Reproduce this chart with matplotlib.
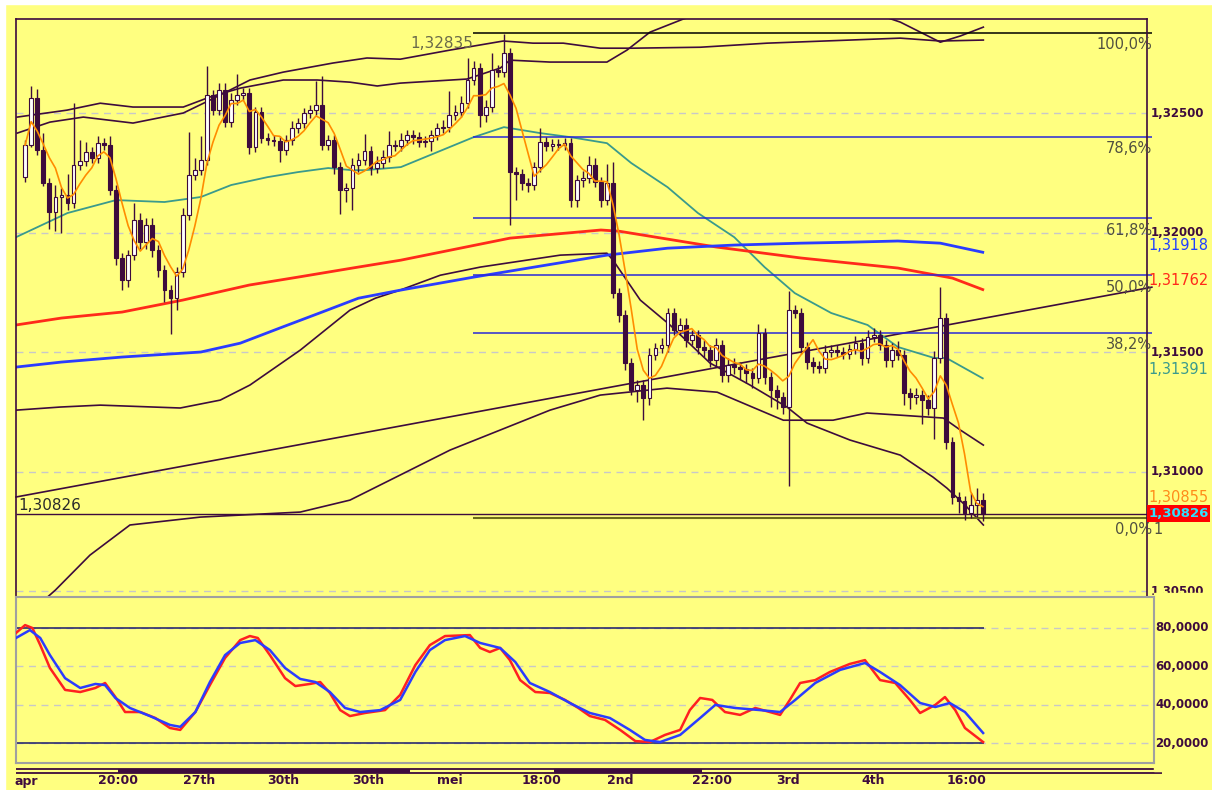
import numpy as np
import pandas as pd
import matplotlib
matplotlib.use("Agg")
import matplotlib.pyplot as plt
from matplotlib.patches import Rectangle
from matplotlib.transforms import blended_transform_factory as blend

plt.rcParams['font.family'] = ['DejaVu Sans']

# ---- 4h price bars ----
first_open = 1.32232
closes = [
    1.32366, 1.32562, 1.32345, 1.32207, 1.32086, 1.32149, 1.32157, 1.32124, 1.32282, 1.32299,
    1.32337, 1.32312, 1.32374, 1.32366, 1.32178, 1.31894, 1.31802, 1.31906, 1.32052, 1.31960,
    1.32032, 1.31927, 1.31843, 1.31760, 1.31726, 1.31835, 1.32073, 1.32241, 1.32261, 1.32303,
    1.32575, 1.32512, 1.32596, 1.32462, 1.32554, 1.32575, 1.32583, 1.32358, 1.32504, 1.32395,
    1.32387, 1.32383, 1.32345, 1.32387, 1.32437, 1.32458, 1.32500, 1.32512, 1.32533, 1.32366,
    1.32387, 1.32274, 1.32178, 1.32186, 1.32282, 1.32303, 1.32341, 1.32270, 1.32291, 1.32316,
    1.32366, 1.32362, 1.32387, 1.32408, 1.32399, 1.32378, 1.32383, 1.32408, 1.32437, 1.32441,
    1.32491, 1.32504, 1.32541, 1.32638, 1.32688, 1.32491, 1.32525, 1.32679, 1.32671, 1.32750,
    1.32253, 1.32245, 1.32207, 1.32199, 1.32274, 1.32378, 1.32362, 1.32370, 1.32366, 1.32374,
    1.32136, 1.32220, 1.32228, 1.32282, 1.32211, 1.32136, 1.32207, 1.31747, 1.31655, 1.31455,
    1.31342, 1.31363, 1.31308, 1.31488, 1.31517, 1.31530, 1.31664, 1.31593, 1.31614, 1.31551,
    1.31572, 1.31522, 1.31509, 1.31467, 1.31530, 1.31405, 1.31446, 1.31438, 1.31430, 1.31413,
    1.31392, 1.31580, 1.31396, 1.31342, 1.31313, 1.31271, 1.31676, 1.31664, 1.31522, 1.31459,
    1.31442, 1.31434, 1.31501, 1.31509, 1.31501, 1.31492, 1.31513, 1.31538, 1.31476, 1.31563,
    1.31571, 1.31530, 1.31467, 1.31509, 1.31488, 1.31329, 1.31313, 1.31321, 1.31300, 1.31267,
    1.31476, 1.31643, 1.31124, 1.30897, 1.30879, 1.30828, 1.30861, 1.30881, 1.30826,
]
# wick lengths in pips above / below the body
wick_up = [
    2, 5, 4, 7, 2, 5, 3, 9, 26, 9,
    4, 2, 3, 2, 4, 2, 2, 2, 7, 3,
    3, 3, 2, 2, 2, 2, 3, 18, 5, 10,
    12, 2, 3, 3, 3, 9, 2, 2, 2, 2,
    2, 2, 2, 2, 3, 2, 2, 2, 10, 12,
    2, 2, 2, 2, 3, 3, 7, 2, 3, 3,
    6, 2, 3, 2, 2, 2, 2, 2, 2, 3,
    10, 3, 3, 9, 3, 2, 3, 7, 2, 8,
    2, 2, 2, 2, 2, 6, 2, 2, 2, 2,
    2, 2, 3, 4, 3, 2, 8, 9, 2, 2,
    2, 2, 2, 3, 2, 3, 2, 2, 3, 3,
    2, 2, 3, 2, 3, 2, 3, 3, 2, 2,
    2, 4, 2, 2, 2, 2, 8, 2, 2, 2,
    2, 2, 3, 2, 2, 2, 2, 3, 2, 3,
    3, 2, 2, 3, 4, 2, 2, 3, 2, 2,
    3, 13, 2, 2, 2, 2, 5, 5, 3,
]
wick_dn = [
    2, 1, 2, 1, 7, 8, 15, 3, 2, 2,
    2, 2, 2, 2, 2, 3, 4, 3, 2, 3,
    3, 3, 3, 5, 15, 5, 2, 2, 2, 2,
    2, 2, 2, 2, 2, 2, 2, 3, 2, 2,
    2, 2, 5, 2, 2, 2, 2, 2, 2, 2,
    2, 3, 10, 5, 9, 3, 2, 3, 2, 2,
    2, 2, 2, 2, 3, 2, 2, 4, 2, 2,
    2, 2, 2, 2, 2, 5, 3, 2, 2, 2,
    22, 11, 3, 3, 2, 2, 2, 2, 2, 2,
    3, 3, 3, 2, 2, 3, 2, 2, 3, 3,
    2, 5, 9, 3, 2, 2, 3, 2, 2, 3,
    2, 3, 3, 3, 3, 3, 3, 3, 4, 4,
    4, 2, 3, 7, 5, 3, 33, 2, 3, 3,
    3, 2, 2, 2, 2, 2, 2, 2, 3, 2,
    2, 2, 3, 3, 2, 5, 5, 3, 10, 3,
    13, 2, 3, 3, 5, 3, 2, 5, 3,
]

# ---- indicator lines, sampled (bar number, price) ----
teal_bar = [-1.5, 7, 15, 23, 29, 34, 40, 45, 50, 54, 56, 62, 74, 79, 85, 90, 96, 100, 106,
            111, 117, 122, 127, 133, 139, 144, 150, 152, 158]
teal_val = [1.31981, 1.32082, 1.32136, 1.32128, 1.32149, 1.32199, 1.32232, 1.32253, 1.32270,
            1.32261, 1.32261, 1.32274, 1.32399, 1.32441, 1.32416, 1.32399, 1.32374, 1.32291,
            1.32190, 1.32082, 1.31981, 1.31856, 1.31747, 1.31664, 1.31614, 1.31522, 1.31476,
            1.31476, 1.31391]

red_bar = [-1.5, 6, 16, 26, 37, 45, 54, 62, 80, 95, 98, 114, 128, 144, 153, 158]
red_val = [1.31614, 1.31643, 1.31668, 1.31718, 1.31781, 1.31814, 1.31852, 1.31885, 1.31977,
           1.32011, 1.32006, 1.31940, 1.31894, 1.31852, 1.31810, 1.31762]

blue_bar = [-1.5, 6, 16, 29, 35.5, 42, 49, 55, 62, 74, 84, 96, 106, 117, 128, 136, 144, 151, 158]
blue_val = [1.31438, 1.31459, 1.31480, 1.31501, 1.31538, 1.31601, 1.31668, 1.31726, 1.31760,
            1.31814, 1.31856, 1.31906, 1.31935, 1.31948, 1.31956, 1.31960, 1.31965, 1.31956,
            1.31918]

upper1_bar = [-1.3, 6.9, 12.4, 17.8, 26.1, 30.5, 35.5, 42.6, 48.2, 53.6, 58.1, 61.9, 72.9, 78.4,
              80, 86.6, 96, 99.3, 103.1, 108.6, 114.7, 124.6, 136.1, 144.4, 151, 154.3, 158.1]
upper1_val = [1.32483, 1.32512, 1.32541, 1.32525, 1.32525, 1.32567, 1.32604, 1.32638, 1.32638,
              1.32629, 1.32613, 1.32625, 1.32642, 1.32688, 1.32721, 1.32713, 1.32713, 1.32763,
              1.32838, 1.32893, 1.32939, 1.32972, 1.32951, 1.32880, 1.32796, 1.32822, 1.32859]

upper2_bar = [-1.3, 4.1, 9.6, 17.8, 26.1, 30.5, 37.1, 42.6, 50.8, 56.4, 61.9, 70.1, 78.9, 83.8,
              88.8, 94.9, 100.3, 111.4, 122.4, 136.1, 144.4, 151, 158.1]
upper2_val = [1.32416, 1.32462, 1.32483, 1.32458, 1.32500, 1.32554, 1.32638, 1.32671, 1.32709,
              1.32730, 1.32725, 1.32763, 1.32801, 1.32792, 1.32792, 1.32771, 1.32771, 1.32775,
              1.32792, 1.32805, 1.32813, 1.32801, 1.32805]

lower1_bar = [-1.5, 5.8, 12.4, 25.6, 32.2, 37.1, 45.4, 53.6, 57.8, 61.9, 68.5, 75.1, 88.3, 96,
              97, 101.5, 106.4, 113, 119.6, 125.7, 129, 136.1, 144.4, 149.8, 152.1, 155.1, 158.1]
lower1_val = [1.31258, 1.31271, 1.31279, 1.31267, 1.31300, 1.31363, 1.31509, 1.31676, 1.31726,
              1.31760, 1.31822, 1.31856, 1.31906, 1.31914, 1.31885, 1.31718, 1.31614, 1.31455,
              1.31363, 1.31271, 1.31204, 1.31133, 1.31070, 1.30978, 1.30932, 1.30861, 1.30778]

lower2_bar = [-1.5, 5, 10.7, 17.3, 28.9, 45.4, 53.6, 61.9, 70.1, 78.4, 86.6, 94.9, 105.9, 114.2,
              125.1, 133.3, 138.9, 144.4, 151.5, 154.3, 158.1]
lower2_val = [1.30360, 1.30506, 1.30652, 1.30778, 1.30811, 1.30832, 1.30882, 1.30987, 1.31091,
              1.31175, 1.31258, 1.31321, 1.31350, 1.31333, 1.31216, 1.31216, 1.31246, 1.31237,
              1.31225, 1.31175, 1.31112]

trend_bar = [-1.5, 185.9]
trend_val = [1.30895, 1.31772]

# fibonacci retracement between the swing high and the low
fib_high, fib_low = 1.32835, 1.30808
fib_ratios = [1.0, 0.786, 0.618, 0.5, 0.382, 0.0]
fib_labels = ['100,0%', '78,6%', '61,8%', '50,0%', '38,2%', '0,0%']
last_price = 1.30826

# ---- stochastic oscillator ----
k_bar = [-1.5, 0, 1.2, 2.5, 4.1, 6.6, 9.1, 11.6, 13.2, 14.9, 16.5, 19, 21.5, 23.9, 25.6, 28.1,
         30.5, 33, 35.5, 37.1, 38.4, 40.4, 42.9, 44.6, 47, 48.7, 50.3, 52, 53.6, 56.1, 59.4,
         61.9, 64.4, 66.8, 69.3, 73.4, 75.1, 76.7, 78.4, 80, 81.7, 84.2, 86.6, 89.1, 91.3,
         93.2, 95.7, 98.2, 100.7, 103.1, 105.6, 108.1, 109.7, 111.4, 113.4, 115.5, 118, 120.5,
         122.9, 124.6, 126.2, 127.9, 130.4, 132.8, 136.1, 138.6, 141.1, 143.6, 146, 147.7,
         150.2, 151.8, 153.5, 155.1, 158.1]
k_val = [77.4, 81.5, 80.0, 71.1, 59.2, 47.8, 46.7, 48.8, 51.4, 44.1, 36.3, 36.3, 33.2, 28.0,
         27.0, 36.3, 50.3, 64.4, 73.7, 75.8, 74.8, 65.9, 53.9, 49.8, 50.9, 51.9, 46.2, 37.3,
         34.2, 35.8, 37.3, 45.2, 60.7, 71.1, 75.8, 76.3, 69.6, 67.5, 69.6, 63.3, 52.9, 46.7,
         46.2, 42.6, 38.4, 34.2, 32.2, 27.0, 21.2, 20.7, 24.4, 27.0, 37.3, 43.6, 42.6, 36.3,
         34.8, 38.4, 36.3, 34.8, 42.6, 51.4, 52.9, 57.1, 61.3, 63.3, 52.9, 51.4, 42.6, 35.8,
         40.0, 44.1, 37.3, 28.0, 20.7]
d_bar = [-1.5, 0.8, 2.5, 4.1, 6.6, 9.1, 11.6, 13.2, 14.9, 17.3, 20.6, 23.9, 25.6, 28.1, 30.5,
         33, 35.5, 38, 40.4, 42.9, 45.4, 47.9, 50.3, 52.8, 55.3, 58.6, 61.9, 64.4, 66.8, 69.3,
         72.6, 75.1, 78.4, 80.9, 83.3, 86.6, 89.9, 93.2, 96.5, 99.8, 102.3, 104.8, 108.1,
         111.4, 113.9, 117.2, 121.3, 124.6, 127.1, 130.4, 134.5, 138.6, 141.1, 144.4, 147.7,
         150.2, 152.6, 155.1, 158.1]
d_val = [74.8, 78.9, 74.8, 65.9, 53.9, 48.8, 50.9, 50.3, 43.6, 38.4, 34.2, 29.6, 28.6, 36.3,
         51.9, 65.9, 72.2, 73.7, 68.5, 59.2, 53.5, 51.9, 46.7, 38.4, 36.3, 37.3, 42.6, 57.1,
         68.5, 73.7, 75.8, 72.2, 69.6, 62.3, 51.4, 46.7, 41.0, 35.8, 33.2, 27.0, 21.8, 20.7,
         24.4, 33.2, 40.0, 38.4, 37.3, 36.3, 42.6, 51.4, 58.2, 61.8, 57.1, 50.3, 41.0, 38.9,
         41.0, 36.3, 25.4]

# ---- time axis ----
tick_bar = [-1.8, 12, 26, 40, 54, 68, 82, 96, 110, 124, 138, 152]
tick_text = ['apr', '20:00', '27th', '30th', '30th', 'mei', '18:00', '2nd', '22:00', '3rd', '4th', '16:00']
day_dark = [(15.3, 63.5), (87.3, 111.7)]

BG = '#ffff80'
INK = '#3d0b3d'
GRID = '#c8c8c8'
FIBBLUE = '#2828d8'

W, H = 1212, 790
fig = plt.figure(figsize=(W / 100, H / 100), dpi=100, facecolor=BG)


def px_axes(x0, y0, x1, y1):
    return fig.add_axes([x0 / W, 1 - y1 / H, (x1 - x0) / W, (y1 - y0) / H])


# thin white border top/left like the screenshot
fig.patches.append(Rectangle((0, 1 - 4 / H), 1, 4 / H, transform=fig.transFigure, color='white'))
fig.patches.append(Rectangle((0, 0), 5 / W, 1, transform=fig.transFigure, color='white'))

# ================= price panel =================
ax = px_axes(16, 19, 1147, 597)
ax.set_facecolor(BG)
ax.set_xlim(-1.5, 185.1)
ax.set_ylim(1.30477, 1.32893)
ax.set_xticks([])
ax.set_yticks([])
for s in ['left', 'top', 'right']:
    ax.spines[s].set_color(INK)
    ax.spines[s].set_linewidth(1.2)
ax.spines['bottom'].set_visible(False)

for lvl in [1.325, 1.32, 1.315, 1.31, 1.305]:
    ax.axhline(lvl, color=GRID, lw=1, ls=(0, (5, 4)), zorder=0)
    ax.text(1.003, lvl, f'{lvl:.5f}'.replace('.', ','), transform=blend(ax.transAxes, ax.transData),
            ha='left', va='center', fontsize=8.5, fontweight='bold', color=INK, clip_on=False)

close = np.array(closes)
opn = np.r_[first_open, close[:-1]]
bars = np.arange(len(close))
top = np.maximum(opn, close)
bot = np.minimum(opn, close)
high = top + np.array(wick_up) * 1e-4
low = bot - np.array(wick_dn) * 1e-4
body = np.maximum(top - bot, 3e-5)
rise = close >= opn

# bands and averages
ax.plot(trend_bar, trend_val, color=INK, lw=1.2, zorder=2, clip_on=False)
for xb, yv in [(upper1_bar, upper1_val), (upper2_bar, upper2_val),
               (lower1_bar, lower1_val), (lower2_bar, lower2_val)]:
    ax.plot(xb, yv, color=INK, lw=1.2, zorder=2)
ax.plot(teal_bar, teal_val, color='#3a9a8c', lw=1.3, zorder=2)
ax.plot(red_bar, red_val, color='#ff2a1a', lw=2, zorder=2)
ax.plot(blue_bar, blue_val, color='#2a3cff', lw=2, zorder=2)

# fibonacci levels
for r, lab in zip(fib_ratios, fib_labels):
    lvl = fib_low + r * (fib_high - fib_low)
    col = FIBBLUE if 0 < r < 1 else ('black' if r == 1 else '#6b6b1a')
    ax.hlines(lvl, 73.9, 185.9, color=col, lw=1.5 if r == 0 else 1.1, zorder=2, clip_on=False)
    ax.annotate(lab, (185.9, lvl), xytext=(0, -12), textcoords='offset pixels',
                ha='right', va='center', fontsize=10.5, color='#505040', annotation_clip=False)
ax.annotate('1', (186.2, fib_low), xytext=(0, -12), textcoords='offset pixels',
            ha='left', va='center', fontsize=10.5, color='#505040', annotation_clip=False)
ax.hlines(last_price, -1.5, 185.9, color=INK, lw=1, zorder=2, clip_on=False)

# candles
ax.vlines(bars, low, high, color=INK, lw=1, zorder=3)
ax.bar(bars[rise], body[rise], bottom=bot[rise], width=0.62, color='white',
       edgecolor=INK, lw=0.8, zorder=4)
ax.bar(bars[~rise], body[~rise], bottom=bot[~rise], width=0.62, color=INK,
       edgecolor=INK, lw=0.8, zorder=4)

fast = pd.Series(close).rolling(5, min_periods=1).mean()
ax.plot(bars, fast, color='#ff8c00', lw=1.2, zorder=5)

# value labels
ax.annotate('1,32835', (73.9, fib_high), xytext=(0, -11), textcoords='offset pixels',
            ha='right', va='center', fontsize=11, color='#6a6a4a')
ax.annotate('1,30826', (-1.2, last_price), xytext=(0, 8), textcoords='offset pixels',
            ha='left', va='center', fontsize=11, color='#2a2a2a')
right = blend(ax.transAxes, ax.transData)
for val, col, dy in [(blue_val[-1], '#2040ff', 7), (red_val[-1], '#ff2a1a', 9),
                     (teal_val[-1], '#3a9a8c', 9), (fast.iloc[-1], '#ff8c1a', 9)]:
    ax.annotate(f'{val:.5f}'.replace('.', ','), (1.001, val), xycoords=right,
                xytext=(0, dy), textcoords='offset pixels', ha='left', va='center',
                fontsize=10.5, color=col, annotation_clip=False)
ax.text(1.001, last_price, f'{last_price:.5f}'.replace('.', ','), transform=right,
        ha='left', va='center', fontsize=9.5, fontweight='bold', color='#30e0ff',
        bbox=dict(boxstyle='square,pad=0.12', fc='#ff0000', ec='none'), clip_on=False)

# ================= stochastic panel =================
ax2 = px_axes(16, 597, 1154, 763)
ax2.set_zorder(2)
ax2.set_facecolor(BG)
ax2.set_xlim(-1.5, 186.3)
ax2.set_ylim(9.8, 96.1)
ax2.set_xticks([])
ax2.set_yticks([])
for s in ax2.spines.values():
    s.set_color('#a0a0a0')
    s.set_linewidth(1.5)
# hides the lower half of the last price tick label, as in the screenshot
ax2.add_patch(Rectangle((1.0, -0.05), 0.06, 1.075, transform=ax2.transAxes, color=BG,
                        clip_on=False, zorder=0))
for lvl in [80, 60, 40, 20]:
    ax2.axhline(lvl, color=GRID, lw=1, ls=(0, (5, 4)), zorder=1)
    ax2.text(1.001, lvl, f'{lvl},0000', transform=blend(ax2.transAxes, ax2.transData),
             ha='left', va='center', fontsize=8.5, fontweight='bold', color=INK, clip_on=False)
ax2.hlines([80, 20], -1.5, 158.3, color='#1a1a6a', lw=1.1, zorder=2)
ax2.plot(k_bar, k_val, color='#ff2020', lw=1.8, zorder=3)
ax2.plot(d_bar, d_val, color='#2a3cff', lw=1.8, zorder=4)

# ================= time strip =================
ax3 = px_axes(16, 767, 1162, 775)
ax3.set_xlim(-1.5, 187.6)
ax3.set_ylim(0, 1)
ax3.axis('off')
ax3.hlines([0.75, 0.25], -1.5, 187.6, color=INK, lw=1.3)
for a, b in day_dark:
    ax3.fill_between([a, b], 0.25, 0.75, color=INK, lw=0)
for xb, lab in zip(tick_bar, tick_text):
    ax3.text(xb, -0.75, lab, ha='left', va='center', fontsize=9, fontweight='bold',
             color=INK, clip_on=False)

fig.savefig('out.png', dpi=100, facecolor=BG)
